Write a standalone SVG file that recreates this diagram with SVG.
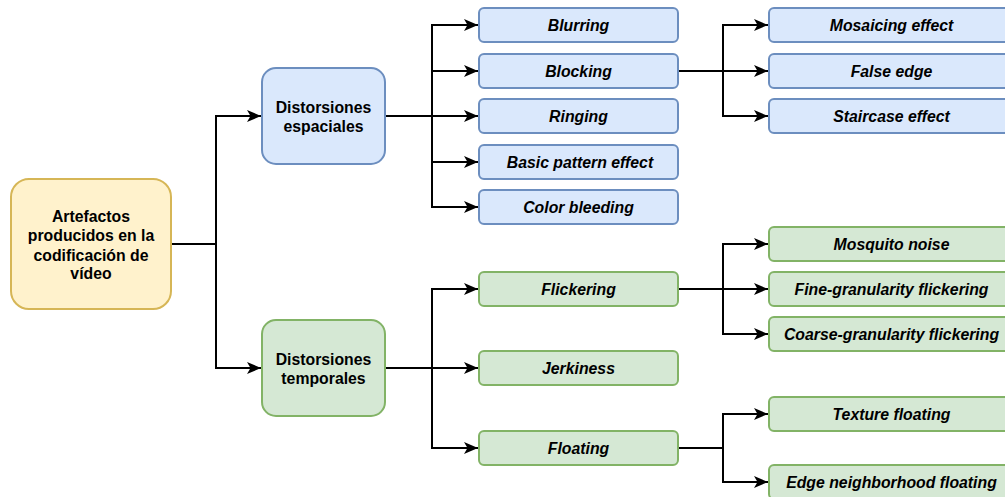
<svg xmlns="http://www.w3.org/2000/svg" width="1005" height="497" viewBox="0 0 1005 497">
<style>
.blue{fill:#dae8fc;stroke:#6c8ebf;stroke-width:2}
.green{fill:#d5e8d4;stroke:#82b366;stroke-width:2}
.yellow{fill:#fff2cc;stroke:#d6b656;stroke-width:2}
text{font-family:"Liberation Sans",Arial,sans-serif;font-size:15.8px;font-weight:bold;fill:#000;text-anchor:middle}
.it{font-style:italic}
.c{fill:none;stroke:#000;stroke-width:2}
</style>
<defs>
<marker id="arr" markerUnits="userSpaceOnUse" markerWidth="15" markerHeight="13" refX="14" refY="6.5" orient="auto">
<path d="M0,0.5 L14,6.5 L0,12.5 L3.5,6.5 Z" fill="#000"/>
</marker>
</defs>
<rect width="1005" height="497" fill="#fff"/>
<g id="connectors">
<path class="c" d="M171,244 H216 V118" />
<path class="c" d="M216,118 V116 H261" marker-end="url(#arr)"/>
<path class="c" d="M216,244 V368 H261" marker-end="url(#arr)"/>
<path class="c" d="M385,116 H478" marker-end="url(#arr)"/>
<path class="c" d="M432,116 V25 H478" marker-end="url(#arr)"/>
<path class="c" d="M432,71 H478" marker-end="url(#arr)"/>
<path class="c" d="M432,116 V162 H478" marker-end="url(#arr)"/>
<path class="c" d="M432,162 V207 H478" marker-end="url(#arr)"/>
<path class="c" d="M678,71 H768" marker-end="url(#arr)"/>
<path class="c" d="M723,71 V25 H768" marker-end="url(#arr)"/>
<path class="c" d="M723,71 V116 H768" marker-end="url(#arr)"/>
<path class="c" d="M385,368 H478" marker-end="url(#arr)"/>
<path class="c" d="M432,368 V289 H478" marker-end="url(#arr)"/>
<path class="c" d="M432,368 V448 H478" marker-end="url(#arr)"/>
<path class="c" d="M678,289 H768" marker-end="url(#arr)"/>
<path class="c" d="M723,289 V244 H768" marker-end="url(#arr)"/>
<path class="c" d="M723,289 V334 H768" marker-end="url(#arr)"/>
<path class="c" d="M678,448 H723 V414 H768" marker-end="url(#arr)"/>
<path class="c" d="M723,448 V482 H768" marker-end="url(#arr)"/>
</g>
<g id="root">
<rect class="yellow" x="11" y="179" width="160" height="130" rx="18"/>
<text x="91" y="222">Artefactos</text>
<text x="91" y="241">producidos en la</text>
<text x="91" y="260.5">codificación de</text>
<text x="91" y="279">vídeo</text>
</g>
<g id="espaciales">
<rect class="blue" x="262" y="68" width="123" height="96" rx="14"/>
<text x="323.5" y="113">Distorsiones</text>
<text x="323.5" y="132">espaciales</text>
</g>
<g id="temporales">
<rect class="green" x="262" y="320" width="123" height="96" rx="14"/>
<text x="323.5" y="365">Distorsiones</text>
<text x="323.5" y="384">temporales</text>
</g>
<g id="blurring"><rect class="blue" x="479" y="8" width="199" height="34" rx="5"/><text class="it" x="578.5" y="30.5">Blurring</text></g>
<g id="blocking"><rect class="blue" x="479" y="54" width="199" height="34" rx="5"/><text class="it" x="578.5" y="76.5">Blocking</text></g>
<g id="ringing"><rect class="blue" x="479" y="99" width="199" height="34" rx="5"/><text class="it" x="578.5" y="121.5">Ringing</text></g>
<g id="basic"><rect class="blue" x="479" y="145" width="199" height="34" rx="5"/><text class="it" x="580" y="167.5">Basic pattern effect</text></g>
<g id="color"><rect class="blue" x="479" y="190" width="199" height="34" rx="5"/><text class="it" x="578.5" y="212.5">Color bleeding</text></g>
<g id="mosaicing"><rect class="blue" x="769" y="8" width="245" height="34" rx="5"/><text class="it" x="891.5" y="30.5">Mosaicing effect</text></g>
<g id="falseedge"><rect class="blue" x="769" y="54" width="245" height="34" rx="5"/><text class="it" x="891.5" y="76.5">False edge</text></g>
<g id="staircase"><rect class="blue" x="769" y="99" width="245" height="34" rx="5"/><text class="it" x="891.5" y="121.5">Staircase effect</text></g>
<g id="flickering"><rect class="green" x="479" y="272" width="199" height="34" rx="5"/><text class="it" x="578.5" y="294.5">Flickering</text></g>
<g id="jerkiness"><rect class="green" x="479" y="351" width="199" height="34" rx="5"/><text class="it" x="578.5" y="373.5">Jerkiness</text></g>
<g id="floating"><rect class="green" x="479" y="431" width="199" height="34" rx="5"/><text class="it" x="578.5" y="453.5">Floating</text></g>
<g id="mosquito"><rect class="green" x="769" y="227" width="245" height="34" rx="5"/><text class="it" x="891.5" y="249.5">Mosquito noise</text></g>
<g id="fine"><rect class="green" x="769" y="272" width="245" height="34" rx="5"/><text class="it" x="891.5" y="294.5">Fine-granularity flickering</text></g>
<g id="coarse"><rect class="green" x="769" y="317" width="245" height="34" rx="5"/><text class="it" x="891.5" y="339.5">Coarse-granularity flickering</text></g>
<g id="texture"><rect class="green" x="769" y="397" width="245" height="34" rx="5"/><text class="it" x="891.5" y="419.5">Texture floating</text></g>
<g id="edge"><rect class="green" x="769" y="465" width="245" height="34" rx="5"/><text class="it" x="891.5" y="487.5">Edge neighborhood floating</text></g>
</svg>
